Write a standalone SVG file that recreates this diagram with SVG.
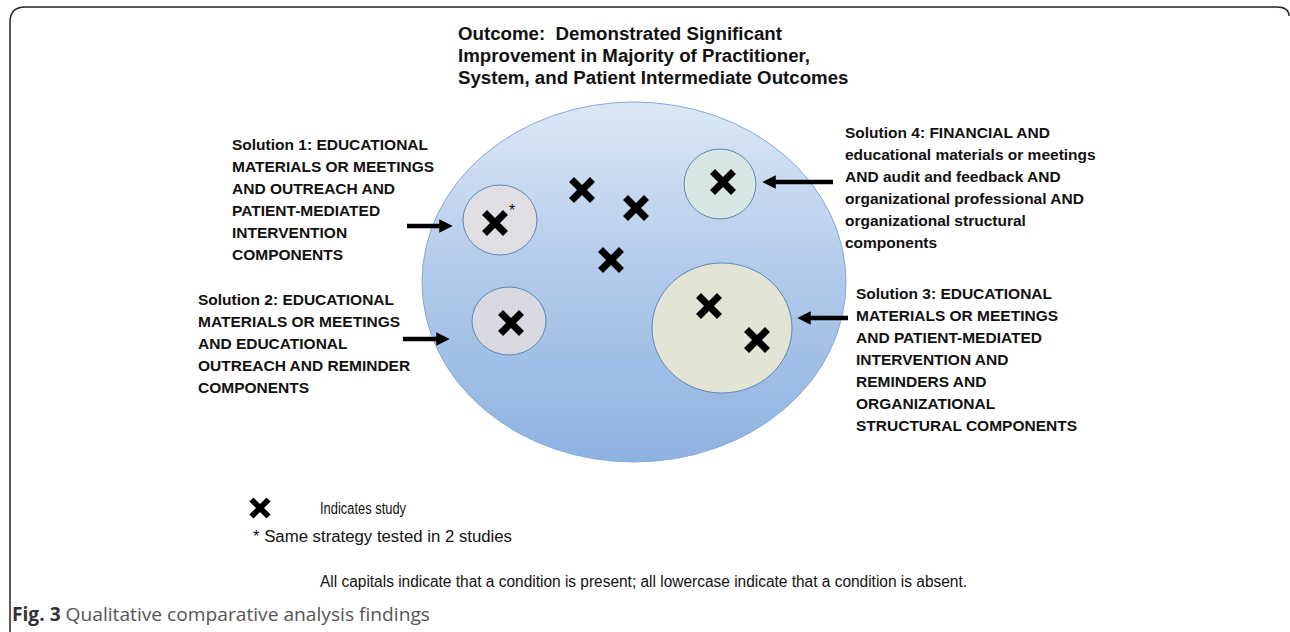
<svg xmlns="http://www.w3.org/2000/svg" width="1290" height="632" viewBox="0 0 1290 632">
<defs>
<linearGradient id="bg" x1="0" y1="0" x2="0" y2="1">
<stop offset="0" stop-color="#dce8f5"/>
<stop offset="0.5" stop-color="#b0c9ea"/>
<stop offset="1" stop-color="#8db3e1"/>
</linearGradient>
<marker id="ah" markerWidth="3" markerHeight="3" refX="1.5" refY="1.5" orient="auto" markerUnits="strokeWidth" viewBox="0 0 3 3">
<path d="M0,0 L3,1.5 L0,3 Z" fill="#000"/>
</marker>
<path id="x" d="M-8,-8 L8,8 M8,-8 L-8,8" stroke="#000" stroke-width="7" stroke-linecap="square" fill="none"/>
</defs>
<style>
.b{font-family:"Liberation Sans",Arial,sans-serif;font-weight:bold;font-size:15.5px;fill:#111}
.t{font-family:"Liberation Sans",Arial,sans-serif;font-weight:bold;font-size:18.7px;fill:#111;white-space:pre}
.n{font-family:"Liberation Sans",Arial,sans-serif;font-size:16px;fill:#111}
.c{stroke:#5b86b8;stroke-width:1}
.a{stroke:#000;stroke-width:4.5;fill:none}
</style>
<rect width="1290" height="632" fill="#fff"/>
<path d="M10,632 V22 Q10,7 25,7 H1276 Q1289,7 1289,16" fill="none" stroke="#222" stroke-width="1.5"/>

<g id="outcome">
<ellipse cx="634" cy="282" rx="212" ry="180" fill="url(#bg)" stroke="#84aad8" stroke-width="1"/>
<text class="t" x="458" y="40" xml:space="preserve">Outcome:  Demonstrated Significant</text>
<text class="t" x="458" y="62">Improvement in Majority of Practitioner,</text>
<text class="t" x="458" y="84">System, and Patient Intermediate Outcomes</text>
<use href="#x" x="582" y="190"/>
<use href="#x" x="636" y="208"/>
<use href="#x" x="611" y="260"/>
</g>

<g id="solution1">
<ellipse class="c" cx="500" cy="220" rx="37" ry="35" fill="#e1dee4"/>
<use href="#x" x="495" y="223"/>
<text class="n" x="509" y="216" font-size="14">*</text>
<text class="b" x="232" y="150">Solution 1: EDUCATIONAL</text>
<text class="b" x="232" y="172">MATERIALS OR MEETINGS</text>
<text class="b" x="232" y="194">AND OUTREACH AND</text>
<text class="b" x="232" y="216">PATIENT-MEDIATED</text>
<text class="b" x="232" y="238">INTERVENTION</text>
<text class="b" x="232" y="260">COMPONENTS</text>
</g>

<g id="solution2">
<ellipse class="c" cx="509" cy="321" rx="37" ry="34" fill="#d9d9e2"/>
<use href="#x" x="511" y="323"/>
<text class="b" x="198" y="305">Solution 2: EDUCATIONAL</text>
<text class="b" x="198" y="327">MATERIALS OR MEETINGS</text>
<text class="b" x="198" y="349">AND EDUCATIONAL</text>
<text class="b" x="198" y="371">OUTREACH AND REMINDER</text>
<text class="b" x="198" y="393">COMPONENTS</text>
</g>

<g id="solution4">
<ellipse class="c" cx="720" cy="184" rx="36" ry="35" fill="#d7e7e3"/>
<use href="#x" x="723" y="182"/>
<text class="b" x="845" y="138">Solution 4: FINANCIAL AND</text>
<text class="b" x="845" y="160" font-size="16">educational materials or meetings</text>
<text class="b" x="845" y="182">AND audit and feedback AND</text>
<text class="b" x="845" y="204" font-size="16">organizational professional AND</text>
<text class="b" x="845" y="226" font-size="16">organizational structural</text>
<text class="b" x="845" y="248" font-size="16">components</text>
</g>

<g id="solution3">
<ellipse class="c" cx="722" cy="328" rx="70" ry="65" fill="#e4e4d4"/>
<use href="#x" x="709" y="306"/>
<use href="#x" x="757" y="340"/>
<text class="b" x="856" y="299">Solution 3: EDUCATIONAL</text>
<text class="b" x="856" y="321">MATERIALS OR MEETINGS</text>
<text class="b" x="856" y="343">AND PATIENT-MEDIATED</text>
<text class="b" x="856" y="365">INTERVENTION AND</text>
<text class="b" x="856" y="387">REMINDERS AND</text>
<text class="b" x="856" y="409">ORGANIZATIONAL</text>
<text class="b" x="856" y="431">STRUCTURAL COMPONENTS</text>
</g>

<g id="connectors">
<line class="a" x1="407" y1="226" x2="446" y2="226" marker-end="url(#ah)"/>
<line class="a" x1="403" y1="339" x2="443" y2="339" marker-end="url(#ah)"/>
<line class="a" x1="833" y1="182" x2="769" y2="182" marker-end="url(#ah)"/>
<line class="a" x1="848" y1="318" x2="804" y2="318" marker-end="url(#ah)"/>
</g>

<g id="legend">
<use href="#x" transform="translate(260,508) scale(0.82)"/>
<text class="n" x="320" y="514" font-size="15" textLength="86" lengthAdjust="spacingAndGlyphs">Indicates study</text>
<text class="n" x="253" y="542" textLength="259" lengthAdjust="spacingAndGlyphs">* Same strategy tested in 2 studies</text>
<text class="n" x="320" y="587" textLength="647" lengthAdjust="spacingAndGlyphs">All capitals indicate that a condition is present; all lowercase indicate that a condition is absent.</text>
</g>

<g id="caption">
<text x="12" y="621" textLength="418" lengthAdjust="spacingAndGlyphs" style="font-family:'Open Sans','Liberation Sans',sans-serif;font-size:19px;fill:#333"><tspan font-weight="bold">Fig. 3</tspan><tspan fill="#555"> Qualitative comparative analysis findings</tspan></text>
</g>
</svg>
